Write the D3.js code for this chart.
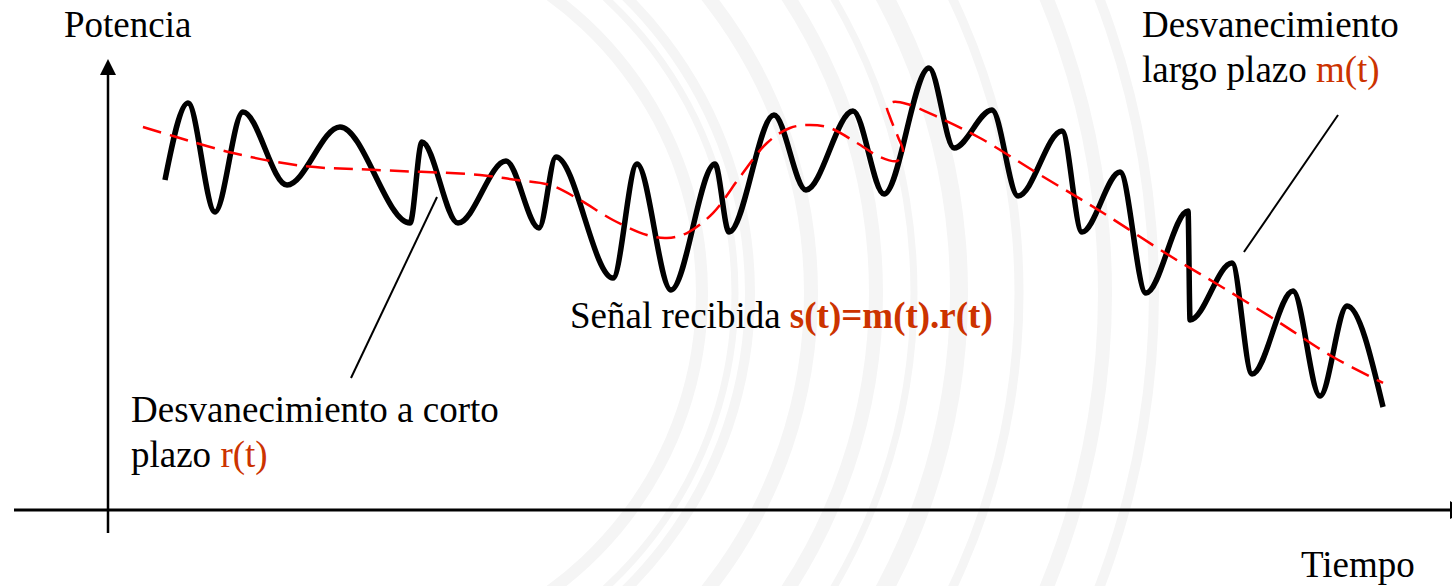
<!DOCTYPE html>
<html>
<head>
<meta charset="utf-8">
<script src="https://cdn.jsdelivr.net/npm/d3@7"></script>
<style>
  html, body { margin: 0; padding: 0; background: #fff; }
  svg { display: block; }
</style>
</head>
<body>
<div id="chart"></div>
<script>
// time (0..100) and power (0..100)
const signalTime = [4.24, 5.95, 7.96, 10.04, 13.32, 17.26, 22.47, 23.36, 26.04, 29.61,
  32.07, 33.33, 37.57, 39.36, 41.89, 45.16, 46.21, 49.55, 51.93, 55.43,
  57.74, 61.09, 62.95, 65.77, 67.71, 70.98, 72.47, 75.30, 77.23, 80.36,
  80.51, 83.63, 85.12, 88.17, 90.18, 92.19, 94.87];
const signalPower = [73.66, 90.85, 66.52, 88.84, 72.54, 85.49, 64.06, 82.14, 64.06, 77.90,
  62.95, 78.79, 51.79, 77.23, 49.11, 77.23, 62.05, 88.17, 71.43, 89.06,
  70.54, 98.66, 80.80, 89.29, 70.09, 84.60, 62.05, 75.45, 48.44, 66.74,
  42.41, 55.13, 30.36, 48.88, 25.45, 45.54, 22.99];

// long term fading m(t) (path folds back on itself near t=58)
const meanTime = [2.60, 4.84, 9.30, 14.51, 20.01, 27.68, 30.43, 32.89, 35.12, 37.57,
  40.10, 41.59, 43.08, 45.01, 47.02, 49.03, 50.74, 52.23, 53.72, 55.73,
  57.44, 58.71, 59.15, 58.78, 58.18, 57.96, 58.41, 59.45, 61.90, 64.88,
  69.12, 73.81, 78.79, 82.51, 86.98, 91.15, 94.87];
const meanPower = [85.49, 83.48, 79.69, 76.79, 75.89, 74.78, 73.66, 72.54, 69.20, 64.73,
  61.38, 60.71, 61.83, 66.29, 74.33, 81.92, 85.27, 85.94, 85.27, 81.92,
  78.79, 77.90, 79.91, 83.26, 87.72, 90.18, 91.07, 90.63, 87.50, 83.04,
  75.22, 66.74, 57.14, 50.45, 42.19, 34.15, 28.35];

// pointer lines: [t0, p0, t1, p1]
const shortTermPointer = [24.48, 69.87, 18.08, 29.46];
const longTermPointer = [91.52, 88.17, 84.52, 57.59];

const axisLabels = { y: "Potencia", x: "Tiempo" };

const width = 1452, height = 586;
const accent = "#cc3300";
const serif = "'Liberation Serif', 'Times New Roman', Times, 'DejaVu Serif', serif";

const svg = d3.select("#chart").append("svg")
  .attr("width", width)
  .attr("height", height);

// faint watermark arcs in the background
const bg = svg.append("g").attr("transform", "translate(334,293)");
const rings = [[368, 12], [401, 7], [416, 10], [477, 14], [542, 14], [580, 7], [625, 18], [685, 9], [771, 14], [820, 10]];
rings.forEach(r => {
  bg.append("path")
    .attr("fill", "#f5f5f5")
    .attr("d", d3.arc()
      .innerRadius(r[0] - r[1] / 2)
      .outerRadius(r[0] + r[1] / 2)
      .startAngle(Math.PI / 12)
      .endAngle(Math.PI * 11 / 12)());
});

const x = d3.scaleLinear().domain([0, 100]).range([108, 1452]);
const y = d3.scaleLinear().domain([0, 100]).range([510, 62]);

// axes
svg.append("line")
  .attr("x1", 14).attr("x2", 1450)
  .attr("y1", y(0)).attr("y2", y(0))
  .attr("stroke", "#000").attr("stroke-width", 3);
svg.append("path")
  .attr("d", "M1450," + (y(0) - 9) + "L1466," + y(0) + "L1450," + (y(0) + 9) + "Z")
  .attr("fill", "#000");

svg.append("line")
  .attr("x1", x(0)).attr("x2", x(0))
  .attr("y1", 533).attr("y2", 72)
  .attr("stroke", "#000").attr("stroke-width", 2.5);
svg.append("path")
  .attr("d", "M" + (x(0) - 8) + ",75L" + x(0) + ",59L" + (x(0) + 8) + ",75Z")
  .attr("fill", "#000");

svg.append("text")
  .attr("x", 64).attr("y", 37)
  .attr("font-family", serif)
  .attr("font-size", "37px")
  .text(axisLabels.y);
svg.append("text")
  .attr("x", 1301).attr("y", 577)
  .attr("font-family", serif)
  .attr("font-size", "37px")
  .text(axisLabels.x);

// received signal s(t)
const signal = signalTime.map((t, i) => ({ t, p: signalPower[i] }));
svg.append("path")
  .datum(signal)
  .attr("fill", "none")
  .attr("stroke", "#000")
  .attr("stroke-width", 5.5)
  .attr("stroke-linejoin", "round")
  .attr("d", d3.line()
    .curve(d3.curveMonotoneX)
    .x(d => x(d.t))
    .y(d => y(d.p)));

// long term fading m(t)
const mean = meanTime.map((t, i) => ({ t, p: meanPower[i] }));
svg.append("path")
  .datum(mean)
  .attr("fill", "none")
  .attr("stroke", "#ff0000")
  .attr("stroke-width", 2.5)
  .attr("stroke-dasharray", "19,9")
  .attr("d", d3.line()
    .curve(d3.curveCatmullRom.alpha(0.5))
    .x(d => x(d.t))
    .y(d => y(d.p)));

// pointers
[shortTermPointer, longTermPointer].forEach(l => {
  svg.append("line")
    .attr("x1", x(l[0])).attr("y1", y(l[1]))
    .attr("x2", x(l[2])).attr("y2", y(l[3]))
    .attr("stroke", "#000").attr("stroke-width", 2);
});

// labels
const labels = [
  { x: 1142, y: 37, parts: [["Desvanecimiento", "#000", "normal"]] },
  { x: 1142, y: 82, parts: [["largo plazo ", "#000", "normal"], ["m(t)", accent, "normal"]] },
  { x: 131, y: 422, parts: [["Desvanecimiento a corto", "#000", "normal"]] },
  { x: 131, y: 467, parts: [["plazo ", "#000", "normal"], ["r(t)", accent, "normal"]] },
  { x: 570, y: 328, parts: [["Señal recibida ", "#000", "normal"], ["s(t)=m(t).r(t)", accent, "bold"]] }
];
labels.forEach(lb => {
  const t = svg.append("text")
    .attr("x", lb.x).attr("y", lb.y)
    .attr("font-family", serif)
    .attr("font-size", "37px")
    .style("white-space", "pre");
  lb.parts.forEach(p => {
    t.append("tspan")
      .attr("fill", p[1])
      .attr("font-weight", p[2])
      .text(p[0]);
  });
});
</script>
</body>
</html>
